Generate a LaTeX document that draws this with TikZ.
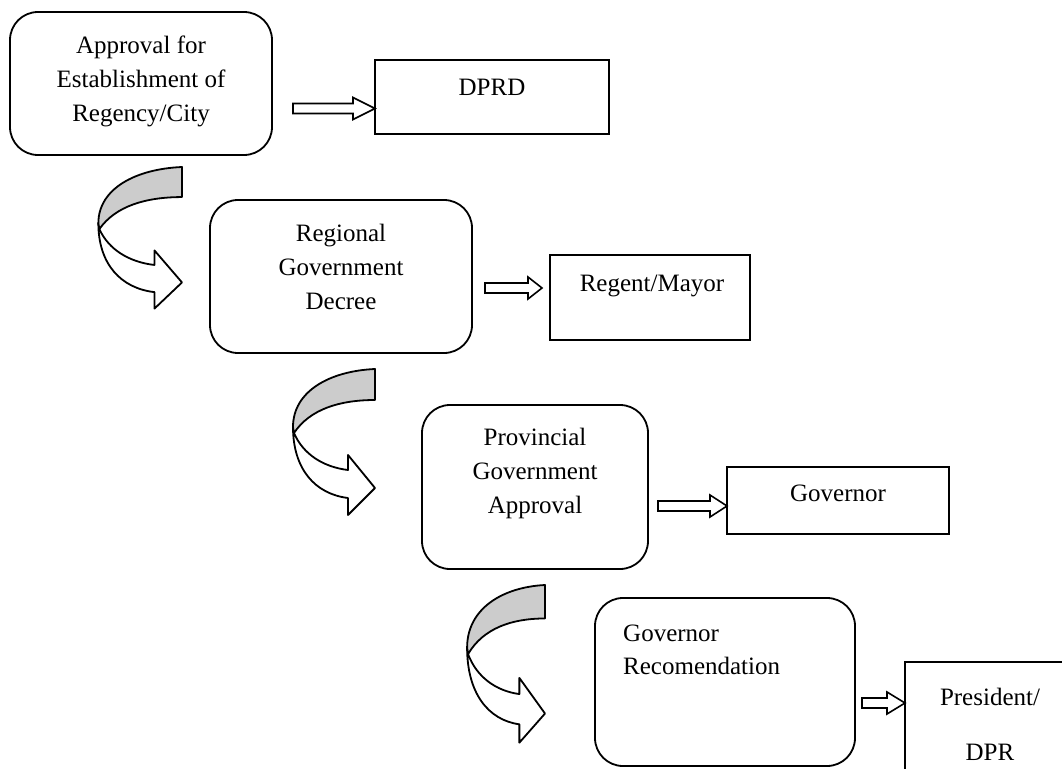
\documentclass[tikz,border=0pt]{standalone}
\usepackage{fontspec}
\setmainfont{Liberation Serif}
\tikzset{
  rbox/.style={draw, line width=1.8pt, rounded corners=28pt, inner sep=0pt},
  sbox/.style={draw, line width=1.8pt, inner sep=0pt},
  txt/.style={font=\fontsize{25}{33}\selectfont, inner sep=0pt, anchor=base},
  txtl/.style={txt, anchor=base west},
  barrow/.style={draw, line width=1.6pt, fill=white, line join=miter},
  bendpart/.style={draw, line width=1.8pt, line join=round},
}
\newcommand\blockarr[4]{%
  \draw[barrow] (#1,#4-5) -- (#2,#4-5) -- (#2,#4-11) -- (#3,#4) -- (#2,#4+11) -- (#2,#4+5) -- (#1,#4+5) -- cycle;}
\newcommand\bendarrow{%
  \draw[bendpart, fill=white] (-81,64) .. controls (-72,85) and (-52,98) .. (-27,101) -- (-27,86) -- (0,119) -- (-27,146) -- (-27,129) .. controls (-60,125) and (-82,100) .. (-82,58) -- cycle;
  \draw[bendpart, fill=black!20] (0,0) .. controls (-45,2) and (-82,22) .. (-82,58) -- (-81,64) .. controls (-65,40) and (-35,31) .. (0,31) -- cycle;}
\begin{document}
\begin{tikzpicture}[x=1pt, y=-1pt]
\useasboundingbox (0,0) rectangle (1062,768);
\clip (0,0) rectangle (1062,768);
\fill[white] (0,0) rectangle (1062,768);

% boxes
\node[rbox, minimum width=262pt, minimum height=143pt] (rb1) at (141,83.5) {};
\node[sbox, minimum width=234pt, minimum height=74pt] (dprd) at (492,97) {};
\node[rbox, minimum width=262pt, minimum height=153pt] (rb2) at (341,276.5) {};
\node[sbox, minimum width=200pt, minimum height=85pt] (regent) at (650,297.5) {};
\node[rbox, minimum width=226pt, minimum height=164pt] (rb3) at (535,487) {};
\node[sbox, minimum width=222pt, minimum height=67pt] (gov) at (838,500.5) {};
\node[rbox, minimum width=260pt, minimum height=168pt] (rb4) at (725,682) {};
\node[sbox, minimum width=195pt, minimum height=138pt] (pres) at (1002.5,731) {};

% texts
\node[txt] (t1a) at (141,53.5) {Approval for};
\node[txt] (t1b) at (141,88) {Establishment of};
\node[txt] (t1c) at (141,121) {Regency/City};
\node[txt] (t2) at (492,95) {DPRD};
\node[txt] (t3a) at (341,241) {Regional};
\node[txt] (t3b) at (341,275) {Government};
\node[txt] (t3c) at (341,309) {Decree};
\node[txt] (t4) at (652,291) {Regent/Mayor};
\node[txt] (t5a) at (535,445) {Provincial};
\node[txt] (t5b) at (535,479) {Government};
\node[txt] (t5c) at (535,513) {Approval};
\node[txt] (t6) at (838,501) {Governor};
\node[txtl] (t7a) at (623,641) {Governor};
\node[txtl] (t7b) at (623,674) {Recomendation};
\node[txt] (t8a) at (990,705) {President/};
\node[txt] (t8b) at (990,760) {DPR};

% block arrows
\blockarr{293}{353}{375}{108.5}
\blockarr{485}{528}{542}{288}
\blockarr{658}{710}{727}{506}
\blockarr{862}{887}{905}{703}

% curved arrows
\begin{scope}[shift={(182,167)}, xscale=1.02, yscale=0.97]
  \bendarrow
\end{scope}
\begin{scope}[shift={(375,369)}]
  \bendarrow
\end{scope}
\begin{scope}[shift={(545,585)}, xscale=0.95, yscale=1.08]
  \bendarrow
\end{scope}
\end{tikzpicture}
\end{document}
